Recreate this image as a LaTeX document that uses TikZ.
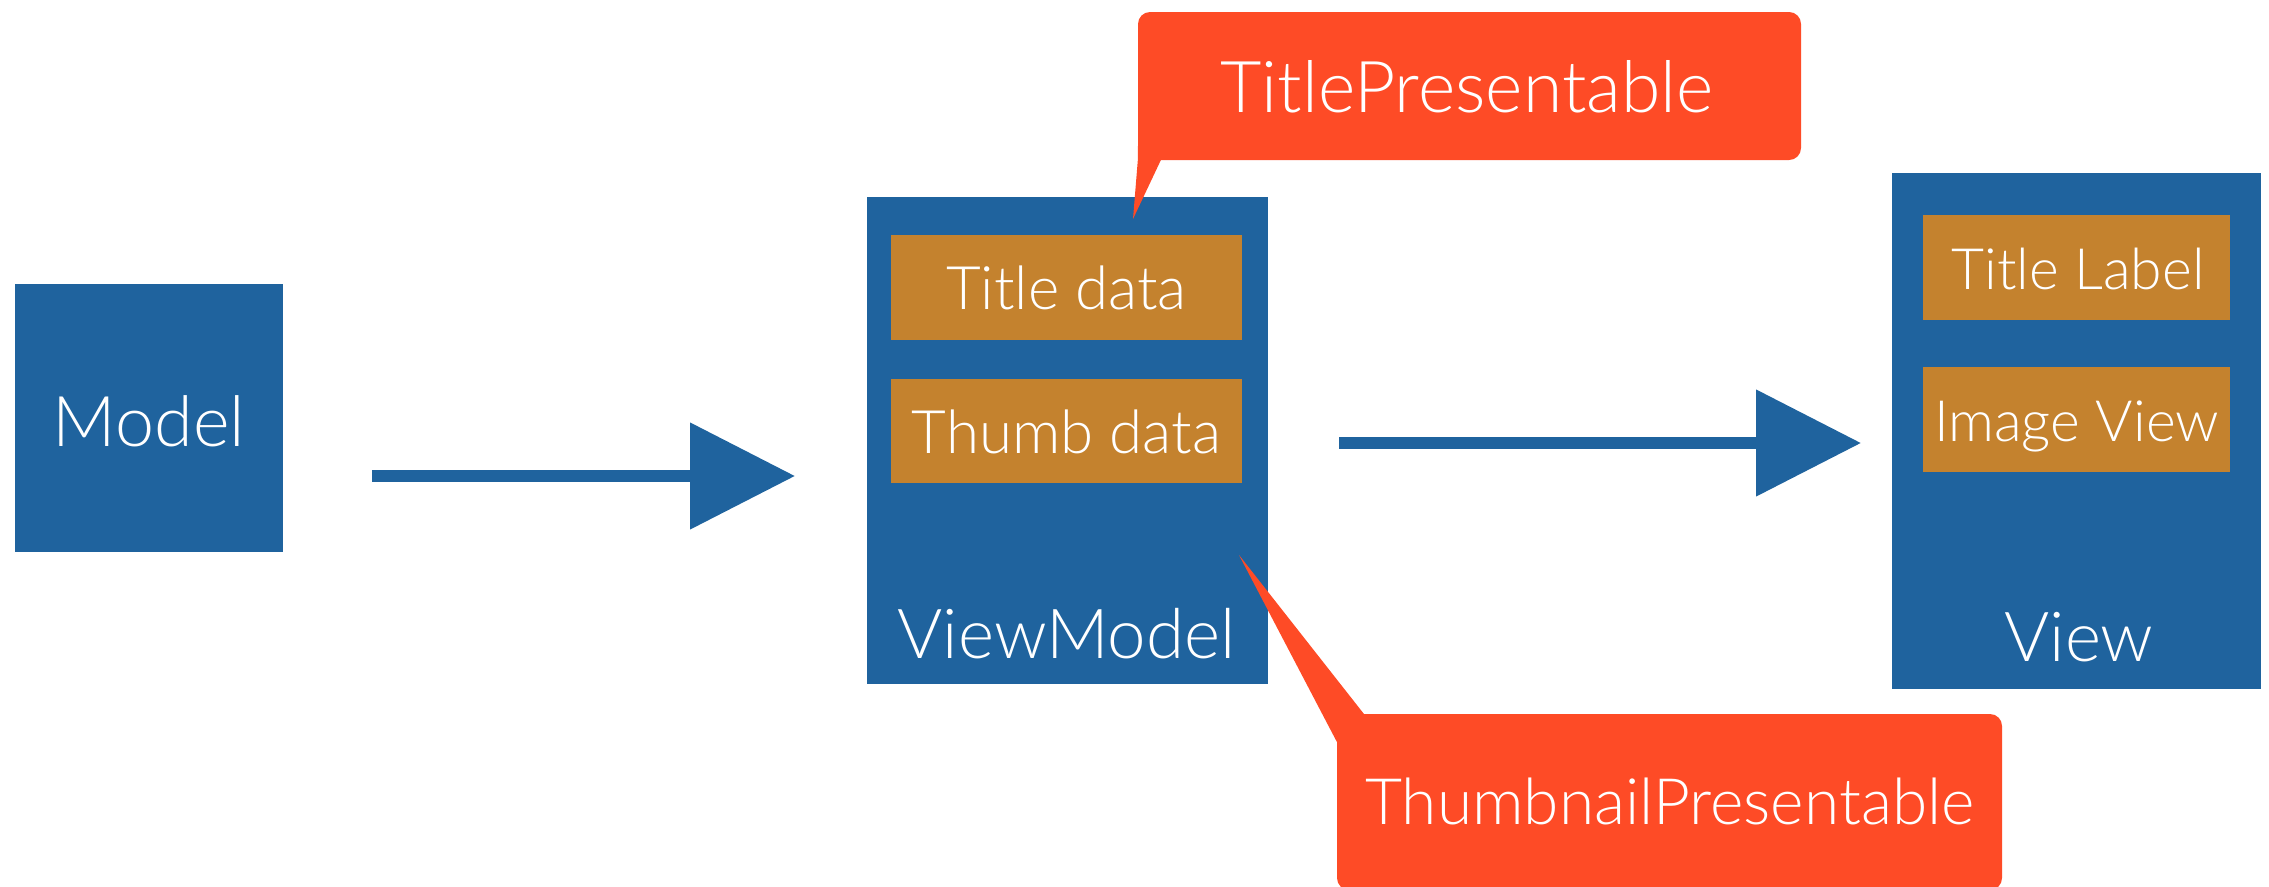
\documentclass[tikz,border=0pt]{standalone}
\usepackage{fontspec}
\IfFontExistsTF{Lato Light}{\setmainfont{Lato Light}}{\setmainfont{Lato}}
\usetikzlibrary{arrows.meta}

\definecolor{boxblue}{RGB}{31,99,158}
\definecolor{slotorange}{RGB}{196,130,46}
\definecolor{calloutred}{RGB}{254,75,38}

\tikzset{
  outerbox/.style={fill=boxblue, draw=none, inner sep=0pt},
  slotbox/.style={fill=slotorange, draw=none, inner sep=0pt, minimum width=351pt, minimum height=105pt},
  callout/.style={fill=calloutred, draw=none, inner sep=0pt, rounded corners=12pt},
  lbl/.style={text=white, anchor=base, inner sep=0pt, font=\fontsize{#1}{#1}\selectfont},
  flowarrow/.style={draw=boxblue, line width=12pt, -{Triangle[length=105pt,width=104pt]}},
}

\begin{document}
\begin{tikzpicture}[x=1pt, y=-1pt]
\useasboundingbox (0,0) rectangle (2269,886);

% the three layers
\node[outerbox, minimum width=268pt, minimum height=268pt] (model) at (149,418) {};
\node[outerbox, minimum width=401pt, minimum height=487pt] (viewmodel) at (1067.5,440.5) {};
\node[outerbox, minimum width=369pt, minimum height=516pt] (view) at (2076.5,431) {};

% slots inside the view model
\node[slotbox] (titledata) at (1066.5,287) {};
\node[slotbox, minimum height=104pt] (thumbdata) at (1066.5,431) {};

% slots inside the view
\node[slotbox, minimum width=307pt] (titlelabel) at (2076.5,267.5) {};
\node[slotbox, minimum width=307pt] (imageview) at (2076.5,419.5) {};

% labels
\node[lbl=70] (modeltxt) at (149,446) {Model};
\node[lbl=69] (viewmodeltxt) at (1066.5,658) {ViewModel};
\node[lbl=69] (viewtxt) at (2079,661) {View};
\node[lbl=60] (titledatatxt) at (1066.5,309) {Title data};
\node[lbl=60] (thumbdatatxt) at (1066.5,453) {Thumb data};
\node[lbl=57] (titlelabeltxt) at (2078,289) {Title Label};
\node[lbl=57] (imageviewtxt) at (2076.5,441) {Image View};

% flow arrows
\coordinate (a1s) at (372,476);
\coordinate (a1e) at (795,476);
\coordinate (a2s) at (1339,443);
\coordinate (a2e) at (1861,443);
\draw[flowarrow] (a1s) -- (a1e);
\draw[flowarrow] (a2s) -- (a2e);

% callout for the title protocol
\node[callout, minimum width=663pt, minimum height=148pt] (titlecallout) at (1469.5,86) {};
\coordinate (t1tip) at (1133,219);
\fill[calloutred] (titlecallout.south west) -- (t1tip) -- ([xshift=23pt]titlecallout.south west) -- ([xshift=23pt,yshift=14pt]titlecallout.south west) -- ([yshift=14pt]titlecallout.south west) -- cycle;
\node[lbl=71.5] (titlecallouttxt) at (1467,112) {TitlePresentable};

% callout for the thumbnail protocol
\node[callout, minimum width=665pt, minimum height=176pt] (thumbcallout) at (1669.5,802) {};
\coordinate (t2tip) at (1239,555);
\fill[calloutred] (t2tip) -- ([xshift=27pt]thumbcallout.north west) -- ([xshift=27pt,yshift=-28pt]thumbcallout.north west) -- ([yshift=-28pt]thumbcallout.north west) -- cycle;
\node[lbl=64] (thumbcallouttxt) at (1670,824) {ThumbnailPresentable};
\end{tikzpicture}
\end{document}
